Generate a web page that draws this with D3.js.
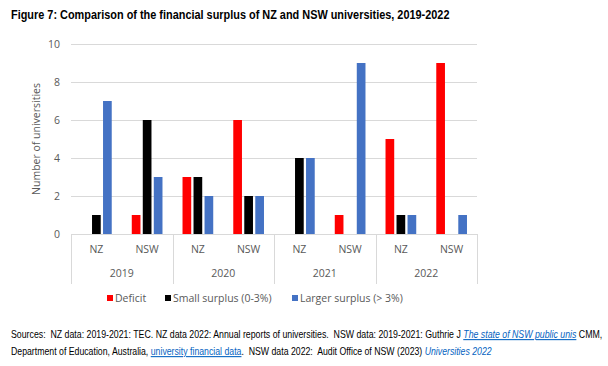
<!DOCTYPE html>
<html><head><meta charset="utf-8">
<script src="https://cdn.jsdelivr.net/npm/d3@7/dist/d3.min.js"></script>
<style>body{margin:0;background:#fff}svg{display:block}</style>
</head><body>
<svg id="c" width="608" height="366"></svg>
<script>
const years = ["2019","2020","2021","2022"];
const regions = ["NZ","NSW"];
const seriesNames = ["Deficit","Small surplus (0-3%)","Larger surplus (> 3%)"];
const seriesColors = ["#FF0000","#000000","#4472C4"];
// values per (year, region) in order: 2019 NZ, 2019 NSW, 2020 NZ, ...
const deficit = [0,1,3,6,0,1,5,9];
const smallSurplus = [1,6,3,2,4,0,1,0];
const largerSurplus = [7,3,2,2,4,9,1,1];
const yTicks = [0,2,4,6,8,10];

const svg = d3.select("#c");
const L = 71, R = 477, T = 44, B = 234;
const cats = [];
years.forEach(y => regions.forEach(r => cats.push(y + "|" + r)));
const x0 = d3.scaleBand().domain(cats).range([L, R]).padding(0);
const x1 = d3.scaleBand().domain(seriesNames).range([0, x0.bandwidth()]).paddingInner(0.21).paddingOuter(0.91);
const y = d3.scaleLinear().domain([0, 10]).range([B, T]);
const gridC = "#D9D9D9", txtC = "#595959";
const chartFont = "'Open Sans', 'Segoe UI', sans-serif";

// gridlines
svg.append("g").selectAll("line").data(yTicks).join("line")
  .attr("x1", L).attr("x2", R).attr("y1", d => y(d) + 0.5).attr("y2", d => y(d) + 0.5)
  .attr("stroke", gridC).attr("stroke-width", 1);

// y tick labels
svg.append("g").selectAll("text").data(yTicks).join("text")
  .attr("x", 60).attr("y", d => y(d)).attr("dy", "0.35em").attr("text-anchor", "end")
  .attr("font-family", chartFont).attr("font-size", 10.5).attr("fill", txtC).text(d => d);

// y axis title
svg.append("text").attr("transform", `translate(40,${(T + B) / 2}) rotate(-90)`)
  .attr("text-anchor", "middle").attr("font-family", chartFont).attr("font-size", 10.5)
  .attr("fill", txtC).text("Number of universities");

// bars
const seriesVals = [deficit, smallSurplus, largerSurplus];
seriesNames.forEach((s, si) => {
  svg.append("g").selectAll("rect").data(cats.map((c, i) => ({c, v: seriesVals[si][i]})).filter(d => d.v > 0))
    .join("rect")
    .attr("x", d => x0(d.c) + x1(s)).attr("width", x1.bandwidth())
    .attr("y", d => y(d.v)).attr("height", d => y(0) - y(d.v))
    .attr("fill", seriesColors[si]);
});

// category axis
const yearStep = x0.bandwidth() * 2;
const bounds = d3.range(years.length + 1).map(i => L + i * yearStep);
svg.append("g").selectAll("line").data(bounds).join("line")
  .attr("x1", d => Math.round(d) + 0.5).attr("x2", d => Math.round(d) + 0.5)
  .attr("y1", B).attr("y2", 284).attr("stroke", gridC);
svg.append("g").selectAll("text").data(cats).join("text")
  .attr("x", d => x0(d) + x0.bandwidth() / 2).attr("y", 249).attr("dy", "0.35em")
  .attr("text-anchor", "middle").attr("font-family", chartFont).attr("font-size", 10.5)
  .attr("fill", txtC).text(d => d.split("|")[1]);
svg.append("g").selectAll("text").data(years).join("text")
  .attr("x", (d, i) => L + (i + 0.5) * yearStep).attr("y", 273).attr("dy", "0.35em")
  .attr("text-anchor", "middle").attr("font-family", chartFont).attr("font-size", 10.5)
  .attr("fill", txtC).text(d => d);

// legend
const legX = [107, 165, 292];
const lg = svg.append("g");
seriesNames.forEach((s, i) => {
  lg.append("rect").attr("x", legX[i]).attr("y", 295).attr("width", 6).attr("height", 6).attr("fill", seriesColors[i]);
  lg.append("text").attr("x", legX[i] + 8).attr("y", 298).attr("dy", "0.35em")
    .attr("font-family", chartFont).attr("font-size", 10.5).attr("fill", txtC).text(s);
});

// title & sources (narrow font emulated)
const narrow = "'Liberation Sans Narrow','Arial Narrow','Liberation Sans',Arial,sans-serif";
function fit(sel, x, target) {
  const w = sel.node().getComputedTextLength();
  sel.attr("transform", `translate(${x},0) scale(${target / w},1)`).attr("x", 0);
}
const title = svg.append("text").attr("y", 19).attr("font-family", narrow).attr("font-weight", "bold")
  .attr("font-size", 12.5).attr("fill", "#000")
  .text("Figure 7: Comparison of the financial surplus of NZ and NSW universities, 2019-2022");
fit(title, 11, 439);

const link = "#0563C1";
const s1 = svg.append("text").attr("y", 338).attr("font-family", narrow).attr("font-size", 10.8)
  .attr("fill", "#000").style("white-space", "pre");
s1.append("tspan").text("Sources:  NZ data: 2019-2021: TEC. NZ data 2022: Annual reports of universities.  NSW data: 2019-2021: Guthrie J ");
s1.append("tspan").attr("fill", link).attr("font-style", "italic").attr("text-decoration", "underline").text("The state of NSW public unis");
s1.append("tspan").text(" CMM,");
fit(s1, 11, 592);
const s2 = svg.append("text").attr("y", 355).attr("font-family", narrow).attr("font-size", 10.8)
  .attr("fill", "#000").style("white-space", "pre");
s2.append("tspan").text("Department of Education, Australia, ");
s2.append("tspan").attr("fill", link).attr("text-decoration", "underline").text("university financial data");
s2.append("tspan").text(".  NSW data 2022:  Audit Office of NSW (2023) ");
s2.append("tspan").attr("fill", link).attr("font-style", "italic").text("Universities 2022");
fit(s2, 11, 481);
</script>
</body></html>
